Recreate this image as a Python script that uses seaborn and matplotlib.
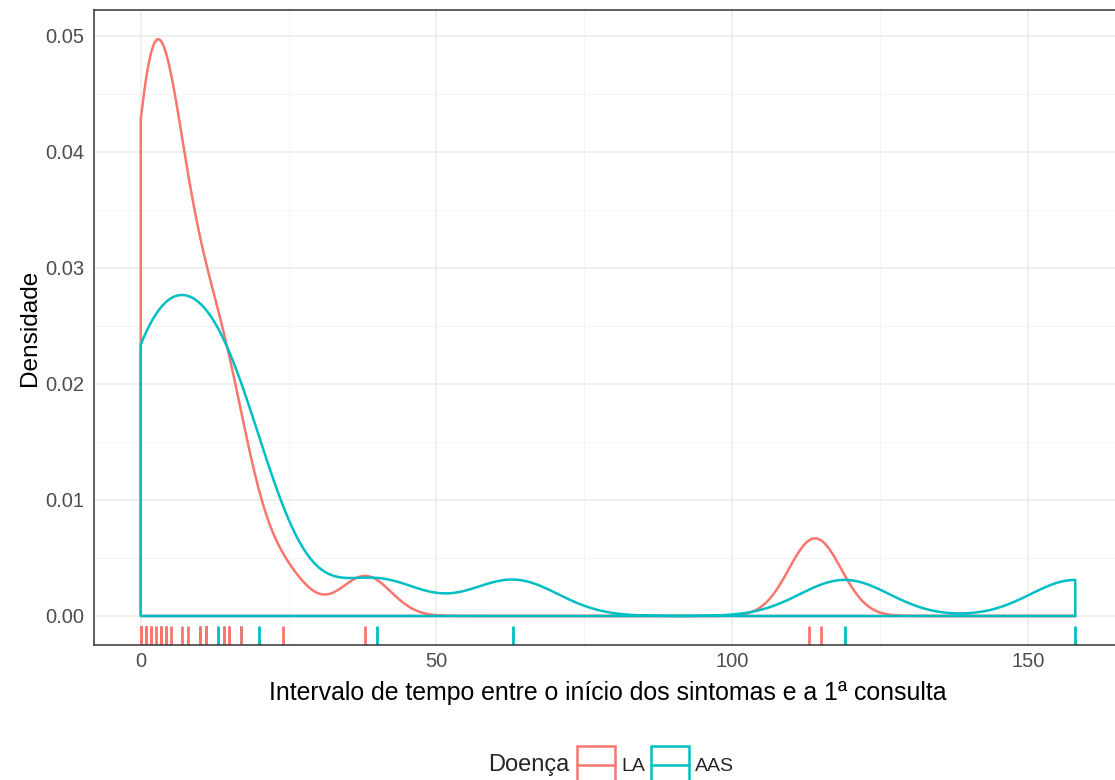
import numpy as np
import pandas as pd
import seaborn as sns
import matplotlib.pyplot as plt
from matplotlib.lines import Line2D
from matplotlib.patches import Rectangle

# time between first symptoms and first visit, per disease
diseases = ['LA', 'AAS']
colors = ['#F8766D', '#00BFC4']

la_days = [0, 0, 0, 0, 0.85, 0.85, 1.7, 1.7, 2.55, 3.4, 3.4, 4.25, 4.25,
           5.1, 7, 8, 10, 11, 11, 14, 15, 15, 17, 24, 38, 113, 115]
aas_days = [0, 0, 0, 0, 0.85, 3.4, 10, 11, 11, 13, 14, 17, 20,
            40, 63, 119, 158]

bandwidths = [4.3, 7.55]

x_ticks = [0, 50, 100, 150]
y_ticks = [0.00, 0.01, 0.02, 0.03, 0.04, 0.05]

LW = 1.8


class BoxLineKey:
    """ggplot-like legend key: outlined box with a line through the middle"""
    def legend_artist(self, legend, orig_handle, fontsize, handlebox):
        x0, y0 = -handlebox.xdescent, -handlebox.ydescent
        w, h = handlebox.width, handlebox.height
        col = orig_handle.get_color()
        tr = handlebox.get_transform()
        rect = Rectangle((x0, y0), w, h, facecolor='none', edgecolor=col,
                         lw=LW, transform=tr)
        line = Line2D([x0, x0 + w], [y0 + h / 2] * 2, color=col, lw=LW,
                      transform=tr)
        handlebox.add_artist(rect)
        handlebox.add_artist(line)
        return rect


def main():
    df = pd.DataFrame({
        'dias': la_days + aas_days,
        'Doença': ['LA'] * len(la_days) + ['AAS'] * len(aas_days),
    })

    sns.set_style('white')
    plt.rcParams['font.family'] = ['Liberation Sans', 'DejaVu Sans']

    fig = plt.figure(figsize=(11.15, 7.8), dpi=100)
    ax = fig.add_axes([0.0843, 0.1733, 0.922, 0.8134])

    lo, hi = df['dias'].min(), df['dias'].max()

    # densities drawn as outlined polygons (like ggplot geom_density)
    for name, col, bw in zip(diseases, colors, bandwidths):
        vals = df.loc[df['Doença'] == name, 'dias']
        factor = bw / np.std(vals, ddof=1)
        n_before = len(ax.collections)
        sns.kdeplot(x=vals, ax=ax, bw_method=factor, cut=30, clip=(lo, hi),
                    gridsize=600, fill=True, color=col, alpha=1,
                    linewidth=LW, zorder=3)
        for coll in ax.collections[n_before:]:
            coll.set_facecolor('none')
            coll.set_edgecolor(col)
            coll.set_linewidth(LW)

    ymax = max(c.get_paths()[0].vertices[:, 1].max() for c in ax.collections)

    # rug ticks, AAS underneath
    for name, col in zip(diseases[::-1], colors[::-1]):
        vals = df.loc[df['Doença'] == name, 'dias']
        sns.rugplot(x=vals, ax=ax, height=0.03, color=col, linewidth=2,
                    expand_margins=False, zorder=2)

    span = hi - lo
    ax.set_xlim(lo - 0.05 * span, hi + 0.05 * span)
    ax.set_ylim(-0.05 * ymax, 1.05 * ymax)

    ax.set_xticks(x_ticks)
    ax.set_xticks([25, 75, 125], minor=True)
    ax.set_yticks(y_ticks)
    ax.set_yticks([0.005, 0.015, 0.025, 0.035, 0.045], minor=True)
    ax.set_yticklabels([f'{v:.2f}' for v in y_ticks])
    ax.grid(True, which='major', color='#EBEBEB', lw=1.1, zorder=0)
    ax.grid(True, which='minor', color='#F2F2F2', lw=0.6, zorder=0)
    ax.set_axisbelow(True)

    ax.tick_params(axis='both', which='major', length=4, width=1.1,
                   color='#333333', labelcolor='#4D4D4D', labelsize=14.5, pad=3)
    ax.tick_params(axis='x', which='major', pad=1.5)
    ax.tick_params(axis='both', which='minor', length=0)
    for sp in ax.spines.values():
        sp.set_color('#333333')
        sp.set_linewidth(1.1)

    ax.set_xlabel('Intervalo de tempo entre o início dos sintomas e a 1ª consulta',
                  fontsize=17.9, color='black', labelpad=7)
    ax.set_ylabel('Densidade', fontsize=17.6, color='black', labelpad=3)

    # legend: outlined box plus line for each group, title on the left
    handles = [Line2D([], [], color=c, lw=LW) for c in colors]
    fig.legend(handles, diseases, handler_map={Line2D: BoxLineKey()},
               ncol=2, frameon=False, loc='center left',
               bbox_to_anchor=(577 / 1115, 15 / 780), fontsize=14,
               handlelength=1.95, handleheight=2.63, handletextpad=0.31,
               columnspacing=0.3, borderpad=0, borderaxespad=0)
    fig.text(488 / 1115, 15 / 780, 'Doença', fontsize=17, va='center', ha='left')

    fig.savefig('out.png', dpi=100)


if __name__ == "__main__":
    main()
